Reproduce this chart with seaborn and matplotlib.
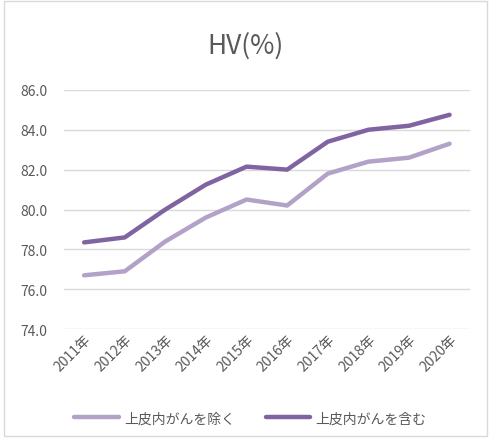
import matplotlib
matplotlib.use("Agg")
import matplotlib.pyplot as plt
import seaborn as sns
import pandas as pd
from matplotlib.patches import Rectangle
from matplotlib.lines import Line2D

years = ["2011年", "2012年", "2013年", "2014年", "2015年", "2016年", "2017年", "2018年", "2019年", "2020年"]
excl = [76.7, 76.9, 78.4, 79.6, 80.5, 80.2, 81.8, 82.4, 82.6, 83.3]
incl = [78.35, 78.6, 80.0, 81.25, 82.15, 82.0, 83.4, 84.0, 84.2, 84.75]
series_names = ["上皮内がんを除く", "上皮内がんを含む"]
yticks = [74.0, 76.0, 78.0, 80.0, 82.0, 84.0, 86.0]

sns.set_theme(style="white")
plt.rcParams['font.family'] = ['Noto Sans CJK JP', 'DejaVu Sans']

df = pd.DataFrame({
    "year": years * 2,
    "value": excl + incl,
    "series": [series_names[0]] * len(years) + [series_names[1]] * len(years),
})

fig = plt.figure(figsize=(4.91, 4.39), dpi=100)
ax = fig.add_axes([0.130, 0.248, 0.827, 0.545])

palette = {series_names[0]: "#b3a2c7", series_names[1]: "#8064a2"}
sns.lineplot(data=df, x="year", y="value", hue="series", palette=palette,
             linewidth=3.2, ax=ax, sort=False, legend=False)

ax.set_ylim(74, 86)
ax.set_xlim(-0.5, len(years) - 0.5)
ax.set_yticks(yticks)
ax.set_yticklabels([f"{v:.1f}" for v in yticks])
ax.yaxis.grid(True, color="#d9d9d9", linewidth=1)
ax.xaxis.grid(False)
for s in ax.spines.values():
    s.set_visible(False)
ax.set_xlabel("")
ax.set_ylabel("")
ax.tick_params(axis="y", length=0, labelsize=10, colors="#595959", pad=12)
ax.tick_params(axis="x", length=0, labelsize=10, colors="#595959", pad=2)
for lab in ax.get_xticklabels():
    lab.set_rotation(45)
    lab.set_ha("right")
    lab.set_rotation_mode("anchor")

fig.text(0.5, 0.895, "HV(%)", ha="center", va="center", fontsize=19, color="#595959")

handles = [Line2D([0], [0], color=palette[n], lw=3.2) for n in series_names]
fig.legend(handles, series_names, loc="center", bbox_to_anchor=(0.51, 0.045), ncol=2,
           frameon=False, fontsize=10, labelcolor="#595959", handlelength=3.2,
           columnspacing=2.2, handletextpad=0.4)

fig.patches.append(Rectangle((0.008, 0.005), 0.984, 0.99, transform=fig.transFigure,
                             fill=False, edgecolor="#d9d9d9", linewidth=1))

fig.savefig("out.png", dpi=100)
